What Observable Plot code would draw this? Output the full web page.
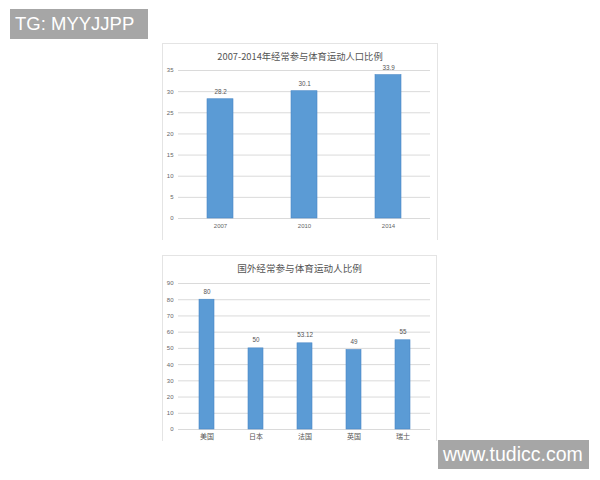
<!DOCTYPE html>
<html>
<head>
<meta charset="utf-8">
<script src="https://cdn.jsdelivr.net/npm/d3@7"></script>
<script src="https://cdn.jsdelivr.net/npm/@observablehq/plot@0.6"></script>
<style>
  html, body { margin: 0; padding: 0; background: #fff; }
  body { width: 600px; height: 480px; position: relative; overflow: hidden;
         font-family: "Liberation Sans", "Noto Sans CJK SC", sans-serif; }
  .frame { position: absolute; box-sizing: border-box; border: 1px solid #e4e4e4; border-bottom: none; background: #fff; }
  .title { position: absolute; left: 0; right: 0; text-align: center; color: #555;
           font-family: "Noto Sans CJK SC", "Liberation Sans", sans-serif; white-space: nowrap; }
  .plot { position: absolute; left: 0; }
  .wm { position: absolute; background: #a6a6a6; color: #fff; font-family: "Liberation Sans", Arial, sans-serif;
        white-space: nowrap; box-sizing: border-box; }
</style>
</head>
<body>
<div class="wm" style="left:10px;top:9px;width:138px;height:30px;font-size:18.5px;line-height:30px;padding-left:5px;">TG: MYYJJPP</div>

<div class="frame" id="f1" style="left:162px;top:43px;width:276px;height:197px;">
  <div class="title" style="top:5px;font-size:9.3px;">2007-2014年经常参与体育运动人口比例</div>
  <div class="plot" id="p1" style="top:-1px;left:0px;"></div>
</div>

<div class="frame" id="f2" style="left:162px;top:255px;width:275px;height:186px;">
  <div class="title" style="top:5px;font-size:9.6px;">国外经常参与体育运动人比例</div>
  <div class="plot" id="p2" style="top:-1px;left:0px;"></div>
</div>

<div class="wm" style="left:438px;top:440px;width:151px;height:29px;font-size:19.5px;line-height:29px;padding-left:5px;">www.tudicc.com</div>

<script>
// Chart 1 data
const years = ["2007", "2010", "2014"];
const rates1 = [28.2, 30.1, 33.9];
const labels1 = ["28.2", "30.1", "33.9"];
const yTicks1 = [0, 5, 10, 15, 20, 25, 30, 35];

// Chart 2 data
const countries = ["美国", "日本", "法国", "英国", "瑞士"];
const rates2 = [80, 50, 53.12, 49, 55];
const labels2 = ["80", "50", "53.12", "49", "55"];
const yTicks2 = [0, 10, 20, 30, 40, 50, 60, 70, 80, 90];

const data1 = years.map((c, i) => ({c, v: rates1[i], l: labels1[i]}));
const data2 = countries.map((c, i) => ({c, v: rates2[i], l: labels2[i]}));

const barFill = "#5b9bd5";
const barStroke = "#4a88c6";
const gridColor = "#dadada";
const textColor = "#666";

const chart1 = Plot.plot({
  width: 274, height: 197,
  marginTop: 27, marginBottom: 22, marginLeft: 15, marginRight: 7,
  style: {fontFamily: "'Liberation Sans', 'Noto Sans CJK SC', sans-serif", background: "transparent"},
  x: {domain: years, paddingInner: 0.69, paddingOuter: 0.345, label: null},
  y: {domain: [0, 35], label: null},
  marks: [
    Plot.gridY(yTicks1, {stroke: gridColor, strokeOpacity: 1}),
    Plot.axisY({ticks: yTicks1, tickSize: 0, tickPadding: 5, fontSize: 6, fill: textColor, label: null}),
    Plot.axisX({tickSize: 0, tickPadding: 5, fontSize: 6, fill: textColor, label: null}),
    Plot.barY(data1, {x: "c", y: "v", fill: barFill, stroke: barStroke, strokeWidth: 0.6}),
    Plot.text(data1, {x: "c", y: "v", text: "l", dy: -7, fontSize: 6.3, fill: "#555"})
  ]
});
document.getElementById("p1").appendChild(chart1);

const chart2 = Plot.plot({
  width: 273, height: 187,
  marginTop: 28, marginBottom: 13, marginLeft: 15, marginRight: 6,
  style: {fontFamily: "'Liberation Sans', 'Noto Sans CJK SC', sans-serif", background: "transparent"},
  x: {domain: countries, paddingInner: 0.7, paddingOuter: 0.38, label: null},
  y: {domain: [0, 90], label: null},
  marks: [
    Plot.gridY(yTicks2, {stroke: gridColor, strokeOpacity: 1}),
    Plot.axisY({ticks: yTicks2, tickSize: 0, tickPadding: 5, fontSize: 6, fill: textColor, label: null}),
    Plot.axisX({tickSize: 0, tickPadding: 5, fontSize: 7, fill: "#555", label: null, fontFamily: "'Noto Sans CJK SC', sans-serif"}),
    Plot.barY(data2, {x: "c", y: "v", fill: barFill, stroke: barStroke, strokeWidth: 0.6}),
    Plot.text(data2, {x: "c", y: "v", text: "l", dy: -8, fontSize: 6.3, fill: "#555"})
  ]
});
document.getElementById("p2").appendChild(chart2);
</script>
</body>
</html>
